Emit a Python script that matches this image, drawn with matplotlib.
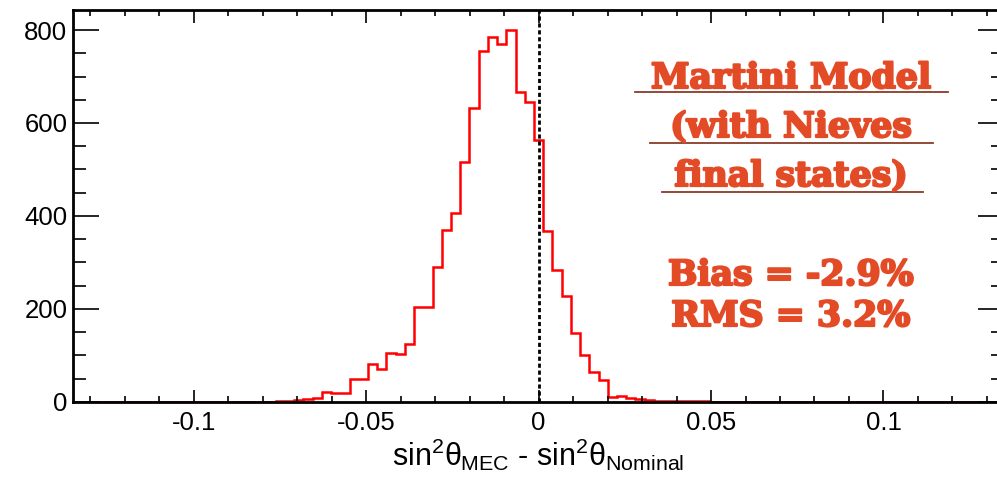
import numpy as np
import matplotlib as mpl
mpl.use('Agg')
import matplotlib.pyplot as plt
import matplotlib.patheffects as pe
from matplotlib.ticker import MultipleLocator

plt.rcParams['font.family'] = ['Liberation Sans', 'DejaVu Sans']
plt.rcParams['mathtext.fontset'] = 'custom'
plt.rcParams['mathtext.rm'] = 'Liberation Sans'
plt.rcParams['mathtext.it'] = 'Liberation Sans'

# histogram binning: 101 bins over the plotted range
x_lo, x_hi, n_bins = -0.135, 0.135, 101
bin_edges = np.linspace(x_lo, x_hi, n_bins + 1)

# bin contents (bins 0..100)
counts = np.array([
    0, 0, 0, 0, 0, 0, 0, 0, 0, 0,
    0, 0, 0, 0, 0, 0, 0, 0, 0, 0,
    0, 0, 1, 2, 3, 5, 8, 21, 18, 18,
    50, 50, 81, 71, 106, 103, 124, 203, 205, 291,
    370, 407, 517, 633, 755, 786, 770, 800, 666, 646,
    564, 367, 284, 227, 148, 101, 64, 46, 10, 13,
    8, 6, 4, 2, 2, 2, 2, 1, 1, 0,
    0, 0, 0, 0, 0, 0, 0, 0, 0, 0,
    0, 0, 0, 0, 0, 0, 0, 0, 0, 0,
    0, 0, 0, 0, 0, 0, 0, 0, 0, 0,
    0,
])

x_ticks = [-0.1, -0.05, 0, 0.05, 0.1]
x_ticklabels = ['-0.1', '-0.05', '0', '0.05', '0.1']
y_ticks = [0, 200, 400, 600, 800]

note_title = ['Martini Model', '(with Nieves', 'final states)']
note_stats = ['Bias = -2.9%', 'RMS = 3.2%']

txt_color = '#e34a26'

fig = plt.figure(figsize=(9.97, 4.8), dpi=100)
ax = fig.add_axes([0.0732, 0.163, 0.934, 0.816])

ax.stairs(counts, bin_edges, color='red', linewidth=1.8, baseline=None)
ax.axvline(0, color='black', linewidth=2.0, linestyle=(0, (1.5, 1.0)))

ax.set_xlim(x_lo, x_hi)
ax.set_ylim(0, 843)

ax.set_xticks(x_ticks)
ax.set_xticklabels(x_ticklabels, fontsize=18.5)
ax.set_yticks(y_ticks)
ax.set_yticklabels([str(v) for v in y_ticks], fontsize=18.5)
ax.xaxis.set_minor_locator(MultipleLocator(0.01))
ax.yaxis.set_minor_locator(MultipleLocator(50))

ax.tick_params(axis='both', which='both', direction='in', top=True, right=True,
               width=1.2, color='black')
ax.tick_params(axis='x', which='major', length=9, pad=7)
ax.tick_params(axis='x', which='minor', length=4.5)
ax.tick_params(axis='y', which='major', length=19, pad=4)
ax.tick_params(axis='y', which='minor', length=9.5)

for s in ax.spines.values():
    s.set_linewidth(2)

ax.set_xlabel(r'$\mathrm{sin}^{2}\theta_{\mathrm{MEC}}$ - $\mathrm{sin}^{2}\theta_{\mathrm{Nominal}}$',
              fontsize=22, labelpad=1)

# annotation block
fx = 791 / 997
heavy = [pe.withStroke(linewidth=1.6, foreground=txt_color)]
ys = [78, 127, 176]
ul = [(635, 948, 92), (650, 933, 142.5), (662, 923, 192)]
for t, y in zip(note_title, ys):
    fig.text(fx, 1 - y / 480, t, ha='center', va='center', fontsize=25,
             fontweight='bold', family='DejaVu Serif', color=txt_color,
             path_effects=heavy)
for x0, x1, y in ul:
    fig.add_artist(plt.Line2D([x0 / 997, x1 / 997], [1 - y / 480] * 2,
                              color='#8a3a28', linewidth=1.3))
for t, y in zip(note_stats, [275, 316]):
    fig.text(fx, 1 - y / 480, t, ha='center', va='center', fontsize=25,
             fontweight='bold', family='DejaVu Serif', color=txt_color,
             path_effects=heavy)

fig.savefig('out.png', dpi=100)
